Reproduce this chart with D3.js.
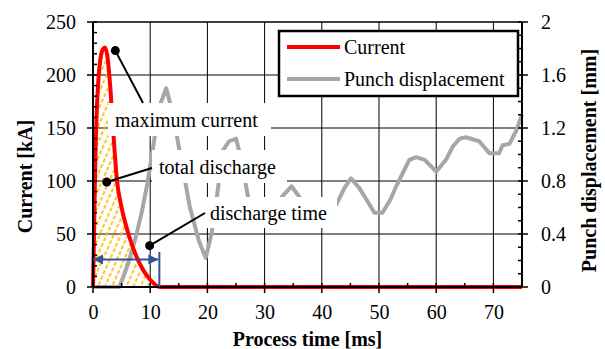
<!DOCTYPE html>
<html>
<head>
<meta charset="utf-8">
<script src="https://cdn.jsdelivr.net/npm/d3@7"></script>
<style>
  body { margin: 0; background: #fff; }
</style>
</head>
<body>
<svg id="chart" width="605" height="349"></svg>
<script>
// process time [ms] and current [kA]
const currentTime = [0, 0.15, 0.35, 0.65, 1.0, 1.3, 1.7, 2.1, 2.5, 3.0, 3.5, 4.2, 5.0, 6.2, 7.5, 9, 10.5, 11.7, 75];
const currentKA   = [0, 40, 105, 165, 200, 215, 224, 226, 218, 190, 150, 100, 75, 50, 30, 14, 4, 0, 0];

// process time [ms] and punch displacement [mm]
const punchTime = [0, 4.6, 5.5, 6.5, 7.5, 8.5, 9.5, 10.5, 11.5, 12.8, 14, 15.2, 16.9, 18.5, 19.7, 20.7, 21.6, 22.7, 23.8, 25.0,
  26, 27.1, 28.3, 30.5, 32, 33, 34.7, 36.4, 38, 39.5, 41, 42.5, 44, 45.1, 46.5, 47.8, 49.2, 50.6, 52, 53, 55.3, 56.5, 58, 60,
  61.7, 62.9, 64.1, 65.2, 67.5, 69.3, 71, 71.6, 72.8, 74, 75];
const punchMM = [0, 0, 0.1, 0.23, 0.38, 0.56, 0.78, 1.05, 1.35, 1.5, 1.3, 1.01, 0.61, 0.35, 0.22, 0.4, 0.66, 1.03, 1.1, 1.12,
  0.95, 0.68, 0.61, 0.55, 0.6, 0.68, 0.76, 0.66, 0.57, 0.55, 0.56, 0.62, 0.75, 0.82, 0.75, 0.66, 0.56, 0.56, 0.66, 0.76, 0.96, 0.98, 0.96, 0.87,
  0.96, 1.06, 1.12, 1.13, 1.10, 1.01, 1.01, 1.07, 1.08, 1.18, 1.30];

const xTicks = [0, 10, 20, 30, 40, 50, 60, 70];
const leftTicks = [0, 50, 100, 150, 200, 250];
const rightTicks = [0, 0.4, 0.8, 1.2, 1.6, 2];
const legendNames = ["Current", "Punch displacement"];

// annotations: point on the chart (time, kA)
const notes = [
  { label: "maximum current", t: 3.9, kA: 223 },
  { label: "total discharge", t: 2.4, kA: 99 },
  { label: "discharge time", t: 9.9, kA: 39 }
];
const dischargeEnd = 11.6;
const arrowKA = 26;

const FONT = "'Liberation Serif', 'Times New Roman', Times, serif";

const margin = { top: 22, right: 83, bottom: 62, left: 93 },
  width = 605 - margin.left - margin.right,
  height = 349 - margin.top - margin.bottom;

const svg = d3.select("#chart");
const chart = svg.append("g").attr("transform", `translate(${margin.left}, ${margin.top})`);

const x = d3.scaleLinear().domain([0, 75]).range([0, width]);
const yL = d3.scaleLinear().domain([0, 250]).range([height, 0]);
const yR = d3.scaleLinear().domain([0, 2]).range([height, 0]);

const current = currentTime.map((t, i) => ({ t, v: currentKA[i] }));
const punch = punchTime.map((t, i) => ({ t, v: punchMM[i] }));

// hatch pattern
const defs = svg.append("defs");
const pat = defs.append("pattern")
  .attr("id", "hatch")
  .attr("patternUnits", "userSpaceOnUse")
  .attr("width", 6.5).attr("height", 6)
  .attr("patternTransform", "rotate(24)");
pat.append("line")
  .attr("x1", 1.5).attr("x2", 1.5).attr("y1", 0).attr("y2", 6)
  .attr("stroke", "#FFB800").attr("stroke-width", 1.7)
  .attr("stroke-dasharray", "4,2");

// grid
chart.append("g").selectAll("line")
  .data(xTicks.filter(d => d > 0))
  .join("line")
  .attr("x1", d => x(d)).attr("x2", d => x(d))
  .attr("y1", 0).attr("y2", height)
  .attr("stroke", "#000").attr("stroke-width", 1);

chart.append("g").selectAll("line")
  .data(leftTicks.filter(d => d > 0))
  .join("line")
  .attr("x1", 0).attr("x2", width)
  .attr("y1", d => yL(d)).attr("y2", d => yL(d))
  .attr("stroke", "#000").attr("stroke-width", 1);

// hatched total discharge area
const area = d3.area()
  .x(d => x(d.t)).y0(height).y1(d => yL(d.v))
  .curve(d3.curveMonotoneX);
chart.append("path")
  .datum(current.filter(d => d.t <= dischargeEnd + 0.2))
  .attr("d", area)
  .attr("fill", "url(#hatch)");

// punch displacement
chart.append("path")
  .datum(punch)
  .attr("d", d3.line().x(d => x(d.t)).y(d => yR(d.v)))
  .attr("fill", "none")
  .attr("stroke", "#A6A6A6")
  .attr("stroke-width", 4)
  .attr("stroke-linejoin", "round");

// current
chart.append("path")
  .datum(current)
  .attr("d", d3.line().x(d => x(d.t)).y(d => yL(d.v)).curve(d3.curveMonotoneX))
  .attr("fill", "none")
  .attr("stroke", "#FF0000")
  .attr("stroke-width", 4);

// axes
const styleTicks = g => {
  g.select(".domain").remove();
  g.selectAll("text").style("font-size", "20px").style("font-family", FONT).attr("fill", "#000");
};
chart.append("g").attr("transform", `translate(0, ${height})`)
  .call(d3.axisBottom(x).tickValues(xTicks).tickSize(0).tickPadding(18))
  .call(styleTicks);

chart.append("g")
  .call(d3.axisLeft(yL).tickValues(leftTicks).tickSize(0).tickPadding(17))
  .call(styleTicks);

chart.append("g").attr("transform", `translate(${width}, 0)`)
  .call(d3.axisRight(yR).tickValues(rightTicks).tickSize(0).tickPadding(19).tickFormat(d3.format("~g")))
  .call(styleTicks);

// frame lines
chart.append("line").attr("x1", 0).attr("x2", width).attr("y1", 0).attr("y2", 0).attr("stroke", "#000").attr("stroke-width", 1);
chart.append("line").attr("x1", 0).attr("x2", 0).attr("y1", 0).attr("y2", height).attr("stroke", "#000").attr("stroke-width", 2);
chart.append("line").attr("x1", width).attr("x2", width).attr("y1", 0).attr("y2", height).attr("stroke", "#000").attr("stroke-width", 2);
chart.append("line").attr("x1", 0).attr("x2", width).attr("y1", height).attr("y2", height).attr("stroke", "#000").attr("stroke-width", 2);

// tick marks
const ticks = chart.append("g").attr("stroke", "#000").attr("stroke-width", 1.5);
ticks.selectAll(".lt").data(d3.range(0, 251, 10)).join("line")
  .attr("x1", d => d % 50 === 0 ? -6 : 0).attr("x2", 4)
  .attr("y1", d => yL(d)).attr("y2", d => yL(d));
ticks.selectAll(".rt").data(d3.range(0, 21, 1)).join("line")
  .attr("x1", width - 4).attr("x2", d => d % 4 === 0 ? width + 6 : width)
  .attr("y1", d => yR(d / 10)).attr("y2", d => yR(d / 10));
ticks.selectAll(".bt").data(d3.range(0, 76, 5)).join("line")
  .attr("x1", d => x(d)).attr("x2", d => x(d))
  .attr("y1", height - 4).attr("y2", d => d % 10 === 0 ? height + 6 : height);

// blue discharge time arrow
const blue = "#2F5597";
defs.append("marker").attr("id", "arr")
  .attr("viewBox", "0 0 10 10").attr("refX", 10).attr("refY", 5)
  .attr("markerWidth", 6).attr("markerHeight", 5)
  .attr("orient", "auto-start-reverse")
  .append("path").attr("d", "M0,0L10,5L0,10Z").attr("fill", blue);
chart.append("line")
  .attr("x1", x(0)).attr("x2", x(dischargeEnd) - 1)
  .attr("y1", yL(arrowKA)).attr("y2", yL(arrowKA))
  .attr("stroke", blue).attr("stroke-width", 2)
  .attr("marker-start", "url(#arr)").attr("marker-end", "url(#arr)");
chart.append("line")
  .attr("x1", x(dischargeEnd)).attr("x2", x(dischargeEnd))
  .attr("y1", yL(33)).attr("y2", height)
  .attr("stroke", blue).attr("stroke-width", 2);

// annotation label boxes (page pixels)
const boxes = [
  { x: 108, y: 103, w: 163, h: 33, tx: 115, ty: 127, ex: 143, ey: 103 },
  { x: 152, y: 150, w: 135, h: 33, tx: 159, ty: 174, ex: 152, ey: 168 },
  { x: 205, y: 197, w: 132, h: 31, tx: 210, ty: 220, ex: 205, ey: 213 }
];
notes.forEach((n, i) => {
  const b = boxes[i];
  chart.append("rect")
    .attr("x", b.x - margin.left).attr("y", b.y - margin.top)
    .attr("width", b.w).attr("height", b.h).attr("fill", "#fff");
  chart.append("text")
    .attr("x", b.tx - margin.left).attr("y", b.ty - margin.top)
    .style("font-size", "20px").style("font-family", FONT)
    .text(n.label);
  chart.append("line")
    .attr("x1", x(n.t)).attr("y1", yL(n.kA))
    .attr("x2", b.ex - margin.left).attr("y2", b.ey - margin.top)
    .attr("stroke", "#000").attr("stroke-width", 2);
  chart.append("circle").attr("cx", x(n.t)).attr("cy", yL(n.kA)).attr("r", 4.5).attr("fill", "#000");
});

// legend
const legend = chart.append("g").attr("transform", `translate(${279 - margin.left}, ${31 - margin.top})`);
legend.append("rect").attr("width", 239).attr("height", 65)
  .attr("fill", "#fff").attr("stroke", "#000").attr("stroke-width", 2.5);
const legendItems = legend.selectAll(".legend-item")
  .data(legendNames)
  .join("g")
  .attr("transform", (d, i) => `translate(0, ${16 + i * 32})`);
legendItems.append("line")
  .attr("x1", 8).attr("x2", 61).attr("y1", 0).attr("y2", 0)
  .attr("stroke", (d, i) => i === 0 ? "#FF0000" : "#A6A6A6")
  .attr("stroke-width", 4);
legendItems.append("text")
  .attr("x", 65).attr("y", 6.5)
  .style("font-size", "20px").style("font-family", FONT)
  .text(d => d);

// axis titles
const title = (sel) => sel.attr("text-anchor", "middle")
  .style("font-size", "20px").style("font-weight", "bold").style("font-family", FONT);
svg.append("text")
  .attr("transform", `translate(32, ${margin.top + height / 2 + 22}) rotate(-90)`)
  .call(title)
  .text("Current [kA]");
svg.append("text")
  .attr("transform", `translate(596, ${margin.top + height / 2 + 6}) rotate(-90)`)
  .call(title)
  .text("Punch displacement [mm]");
svg.append("text")
  .attr("x", margin.left + width / 2)
  .attr("y", 346)
  .call(title)
  .text("Process time [ms]");
</script>
</body>
</html>
